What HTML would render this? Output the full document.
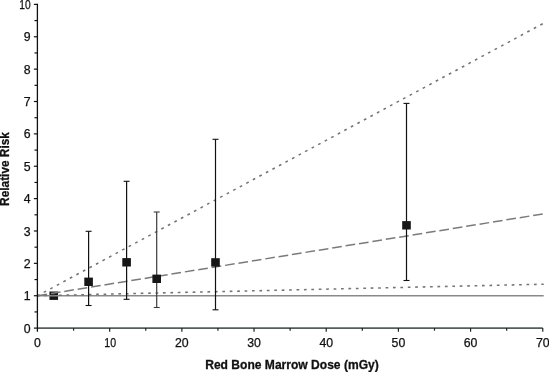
<!DOCTYPE html><html><head><meta charset="utf-8"><style>html,body{margin:0;padding:0;background:#fff;}svg{display:block;will-change:transform;}text{font-family:"Liberation Sans",sans-serif;fill:#111;}</style></head><body>
<svg width="549" height="372" viewBox="0 0 549 372">
<rect width="549" height="372" fill="#fff"/>
<rect x="49.45" y="291.5" width="8.6" height="8.4" fill="#161616"/>
<line x1="37.5" y1="295.83" x2="543.7" y2="295.83" stroke="#858a8c" stroke-width="1.5"/>
<line x1="37.5" y1="295.73" x2="543.7" y2="23.2" stroke="#727572" stroke-width="1.55" stroke-dasharray="2.7 4.721" stroke-dashoffset="0.35"/>
<line x1="37.5" y1="295.73" x2="543.7" y2="284.2" stroke="#727572" stroke-width="1.55" stroke-dasharray="2.7 4.722" stroke-dashoffset="0.7"/>
<line x1="37.5" y1="295.73" x2="543.7" y2="213.8" stroke="#787c78" stroke-width="1.5" stroke-dasharray="9.7 3.87"/>
<line x1="37.5" y1="328.1" x2="542.8" y2="328.1" stroke="#565e5c" stroke-width="1.8"/>
<line x1="37.4" y1="3.7" x2="37.4" y2="331.8" stroke="#111" stroke-width="1.3"/>
<line x1="33.9" y1="328.10" x2="37.5" y2="328.10" stroke="#111" stroke-width="1.2"/>
<text x="30.6" y="332.70" font-size="12.3" text-anchor="end" stroke="#111" stroke-width="0.25">0</text>
<line x1="34.5" y1="311.92" x2="37.5" y2="311.92" stroke="#111" stroke-width="1.2"/>
<line x1="33.9" y1="295.73" x2="37.5" y2="295.73" stroke="#111" stroke-width="1.2"/>
<text x="30.6" y="300.33" font-size="12.3" text-anchor="end" stroke="#111" stroke-width="0.25">1</text>
<line x1="34.5" y1="279.55" x2="37.5" y2="279.55" stroke="#111" stroke-width="1.2"/>
<line x1="33.9" y1="263.36" x2="37.5" y2="263.36" stroke="#111" stroke-width="1.2"/>
<text x="30.6" y="267.96" font-size="12.3" text-anchor="end" stroke="#111" stroke-width="0.25">2</text>
<line x1="34.5" y1="247.18" x2="37.5" y2="247.18" stroke="#111" stroke-width="1.2"/>
<line x1="33.9" y1="230.99" x2="37.5" y2="230.99" stroke="#111" stroke-width="1.2"/>
<text x="30.6" y="235.59" font-size="12.3" text-anchor="end" stroke="#111" stroke-width="0.25">3</text>
<line x1="34.5" y1="214.81" x2="37.5" y2="214.81" stroke="#111" stroke-width="1.2"/>
<line x1="33.9" y1="198.62" x2="37.5" y2="198.62" stroke="#111" stroke-width="1.2"/>
<text x="30.6" y="203.22" font-size="12.3" text-anchor="end" stroke="#111" stroke-width="0.25">4</text>
<line x1="34.5" y1="182.44" x2="37.5" y2="182.44" stroke="#111" stroke-width="1.2"/>
<line x1="33.9" y1="166.25" x2="37.5" y2="166.25" stroke="#111" stroke-width="1.2"/>
<text x="30.6" y="170.85" font-size="12.3" text-anchor="end" stroke="#111" stroke-width="0.25">5</text>
<line x1="34.5" y1="150.07" x2="37.5" y2="150.07" stroke="#111" stroke-width="1.2"/>
<line x1="33.9" y1="133.88" x2="37.5" y2="133.88" stroke="#111" stroke-width="1.2"/>
<text x="30.6" y="138.48" font-size="12.3" text-anchor="end" stroke="#111" stroke-width="0.25">6</text>
<line x1="34.5" y1="117.70" x2="37.5" y2="117.70" stroke="#111" stroke-width="1.2"/>
<line x1="33.9" y1="101.51" x2="37.5" y2="101.51" stroke="#111" stroke-width="1.2"/>
<text x="30.6" y="106.11" font-size="12.3" text-anchor="end" stroke="#111" stroke-width="0.25">7</text>
<line x1="34.5" y1="85.33" x2="37.5" y2="85.33" stroke="#111" stroke-width="1.2"/>
<line x1="33.9" y1="69.14" x2="37.5" y2="69.14" stroke="#111" stroke-width="1.2"/>
<text x="30.6" y="73.74" font-size="12.3" text-anchor="end" stroke="#111" stroke-width="0.25">8</text>
<line x1="34.5" y1="52.96" x2="37.5" y2="52.96" stroke="#111" stroke-width="1.2"/>
<line x1="33.9" y1="36.77" x2="37.5" y2="36.77" stroke="#111" stroke-width="1.2"/>
<text x="30.6" y="41.37" font-size="12.3" text-anchor="end" stroke="#111" stroke-width="0.25">9</text>
<line x1="34.5" y1="20.59" x2="37.5" y2="20.59" stroke="#111" stroke-width="1.2"/>
<line x1="33.9" y1="4.40" x2="37.5" y2="4.40" stroke="#111" stroke-width="1.2"/>
<text x="30.6" y="9.00" font-size="12.3" text-anchor="end" textLength="11.4" lengthAdjust="spacingAndGlyphs" stroke="#111" stroke-width="0.25">10</text>
<text x="37.50" y="347.2" font-size="12.3" text-anchor="middle" stroke="#111" stroke-width="0.25">0</text>
<line x1="73.59" y1="328.1" x2="73.59" y2="330.70000000000005" stroke="#222" stroke-width="1.2"/>
<line x1="109.68" y1="328.1" x2="109.68" y2="331.70000000000005" stroke="#222" stroke-width="1.2"/>
<text x="110.18" y="347.2" font-size="12.3" text-anchor="middle" textLength="11.8" lengthAdjust="spacingAndGlyphs" stroke="#111" stroke-width="0.25">10</text>
<line x1="145.77" y1="328.1" x2="145.77" y2="330.70000000000005" stroke="#222" stroke-width="1.2"/>
<line x1="181.86" y1="328.1" x2="181.86" y2="331.70000000000005" stroke="#222" stroke-width="1.2"/>
<text x="181.86" y="347.2" font-size="12.3" text-anchor="middle" stroke="#111" stroke-width="0.25">20</text>
<line x1="217.95" y1="328.1" x2="217.95" y2="330.70000000000005" stroke="#222" stroke-width="1.2"/>
<line x1="254.04" y1="328.1" x2="254.04" y2="331.70000000000005" stroke="#222" stroke-width="1.2"/>
<text x="254.04" y="347.2" font-size="12.3" text-anchor="middle" stroke="#111" stroke-width="0.25">30</text>
<line x1="290.13" y1="328.1" x2="290.13" y2="330.70000000000005" stroke="#222" stroke-width="1.2"/>
<line x1="326.22" y1="328.1" x2="326.22" y2="331.70000000000005" stroke="#222" stroke-width="1.2"/>
<text x="326.22" y="347.2" font-size="12.3" text-anchor="middle" stroke="#111" stroke-width="0.25">40</text>
<line x1="362.31" y1="328.1" x2="362.31" y2="330.70000000000005" stroke="#222" stroke-width="1.2"/>
<line x1="398.40" y1="328.1" x2="398.40" y2="331.70000000000005" stroke="#222" stroke-width="1.2"/>
<text x="398.40" y="347.2" font-size="12.3" text-anchor="middle" stroke="#111" stroke-width="0.25">50</text>
<line x1="434.49" y1="328.1" x2="434.49" y2="330.70000000000005" stroke="#222" stroke-width="1.2"/>
<line x1="470.58" y1="328.1" x2="470.58" y2="331.70000000000005" stroke="#222" stroke-width="1.2"/>
<text x="470.58" y="347.2" font-size="12.3" text-anchor="middle" stroke="#111" stroke-width="0.25">60</text>
<line x1="506.67" y1="328.1" x2="506.67" y2="330.70000000000005" stroke="#222" stroke-width="1.2"/>
<line x1="542.76" y1="328.1" x2="542.76" y2="331.70000000000005" stroke="#222" stroke-width="1.2"/>
<text x="542.76" y="347.2" font-size="12.3" text-anchor="middle" stroke="#111" stroke-width="0.25">70</text>
<line x1="88.6" y1="231.3" x2="88.6" y2="305.5" stroke="#111" stroke-width="1.2"/>
<line x1="85.6" y1="231.3" x2="91.6" y2="231.3" stroke="#111" stroke-width="1.1"/>
<line x1="85.6" y1="305.5" x2="91.6" y2="305.5" stroke="#111" stroke-width="1.1"/>
<rect x="84.30" y="277.60" width="8.6" height="8.4" fill="#161616"/>
<line x1="126.6" y1="181.3" x2="126.6" y2="299.3" stroke="#111" stroke-width="1.2"/>
<line x1="123.6" y1="181.3" x2="129.6" y2="181.3" stroke="#111" stroke-width="1.1"/>
<line x1="123.6" y1="299.3" x2="129.6" y2="299.3" stroke="#111" stroke-width="1.1"/>
<rect x="122.30" y="258.10" width="8.6" height="8.4" fill="#161616"/>
<line x1="156.7" y1="212" x2="156.7" y2="307.5" stroke="#3c3c3c" stroke-width="1.2"/>
<line x1="153.7" y1="212" x2="159.7" y2="212" stroke="#3c3c3c" stroke-width="1.1"/>
<line x1="153.7" y1="307.5" x2="159.7" y2="307.5" stroke="#3c3c3c" stroke-width="1.1"/>
<rect x="152.40" y="274.60" width="8.6" height="8.4" fill="#161616"/>
<line x1="215.5" y1="139.3" x2="215.5" y2="309.8" stroke="#111" stroke-width="1.2"/>
<line x1="212.5" y1="139.3" x2="218.5" y2="139.3" stroke="#111" stroke-width="1.1"/>
<line x1="212.5" y1="309.8" x2="218.5" y2="309.8" stroke="#111" stroke-width="1.1"/>
<rect x="211.20" y="258.20" width="8.6" height="8.4" fill="#161616"/>
<line x1="406.5" y1="103.4" x2="406.5" y2="280.5" stroke="#111" stroke-width="1.2"/>
<line x1="403.5" y1="103.4" x2="409.5" y2="103.4" stroke="#111" stroke-width="1.1"/>
<line x1="403.5" y1="280.5" x2="409.5" y2="280.5" stroke="#111" stroke-width="1.1"/>
<rect x="402.20" y="221.10" width="8.6" height="8.4" fill="#161616"/>
<text x="292.0" y="369.1" font-size="12.5" font-weight="bold" text-anchor="middle" textLength="173.6" lengthAdjust="spacingAndGlyphs" stroke="#111" stroke-width="0.3">Red Bone Marrow Dose (mGy)</text>
<text transform="translate(9.4,169.0) rotate(-90)" font-size="12.5" font-weight="bold" text-anchor="middle" textLength="73.8" lengthAdjust="spacingAndGlyphs" stroke="#111" stroke-width="0.3">Relative Risk</text>
</svg></body></html>
